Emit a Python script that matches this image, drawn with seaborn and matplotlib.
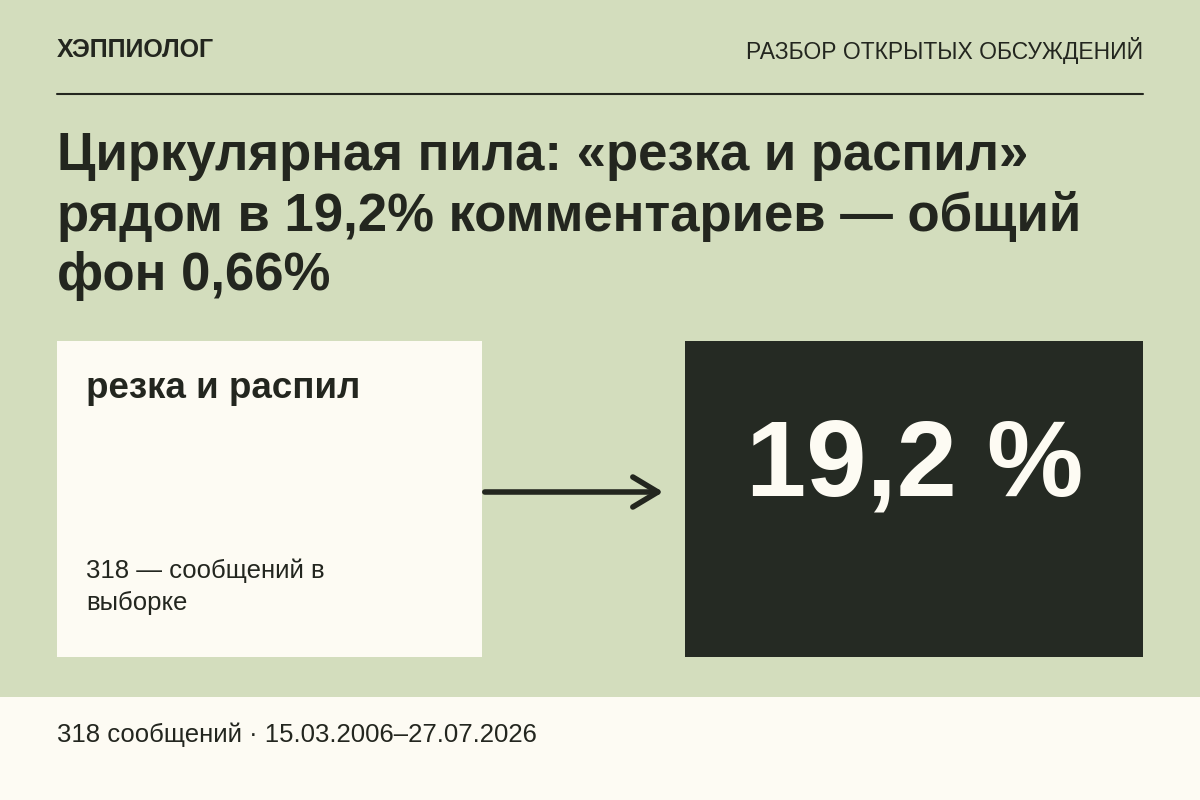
import matplotlib
matplotlib.use("Agg")
import matplotlib.pyplot as plt
import seaborn as sns
from matplotlib.patches import Rectangle

sns.set_theme(style="white")
plt.rcParams['font.family'] = ['Liberation Sans', 'DejaVu Sans']

brand = "ХЭППИОЛОГ"
section = "РАЗБОР ОТКРЫТЫХ ОБСУЖДЕНИЙ"
title_lines = ["Циркулярная пила: «резка и распил»",
               "рядом в 19,2% комментариев — общий",
               "фон 0,66%"]
topic = "резка и распил"
share_label = "19,2 %"
sample_lines = ["318 — сообщений в", "выборке"]
footer = "318 сообщений · 15.03.2006–27.07.2026"

BG = "#d3ddbd"
CREAM = "#fdfbf3"
DARK = "#252a23"
INK = "#23261f"

fig = plt.figure(figsize=(12, 8), dpi=100, facecolor=BG)
ax = fig.add_axes([0, 0, 1, 1])
ax.set_xlim(0, 1200)
ax.set_ylim(800, 0)
ax.axis("off")
ax.set_facecolor(BG)

ax.text(57, 50, brand, fontsize=18, fontweight="bold", color=INK, va="center", ha="left")
ax.text(1143, 50, section, fontsize=16.5, color=INK, va="center", ha="right")
ax.plot([57, 1143], [94, 94], color=INK, lw=1.5)

for i, line in enumerate(title_lines):
    ax.text(57, 156 + i * 60, line, fontsize=38, fontweight="bold", color=INK,
            va="center", ha="left")

ax.add_patch(Rectangle((57, 341), 425, 316, color=CREAM, lw=0))
ax.add_patch(Rectangle((685, 341), 458, 316, color=DARK, lw=0))

ax.text(86, 389, topic, fontsize=26.5, fontweight="bold", color=INK, va="center", ha="left")
for i, line in enumerate(sample_lines):
    ax.text(86, 571 + i * 32, line, fontsize=18.5, color=INK, va="center", ha="left")
ax.text(915, 468, share_label, fontsize=78, fontweight="bold", color=CREAM,
        va="center", ha="center")

ax.annotate("", xy=(666, 492), xytext=(482, 492),
            arrowprops=dict(arrowstyle="->,head_length=1.5,head_width=0.9",
                            color=INK, lw=4))

ax.add_patch(Rectangle((0, 697), 1200, 103, color=CREAM, lw=0))
ax.text(57, 735, footer, fontsize=18.5, color=INK, va="center", ha="left")

fig.savefig("out.png", dpi=100, facecolor=BG)
